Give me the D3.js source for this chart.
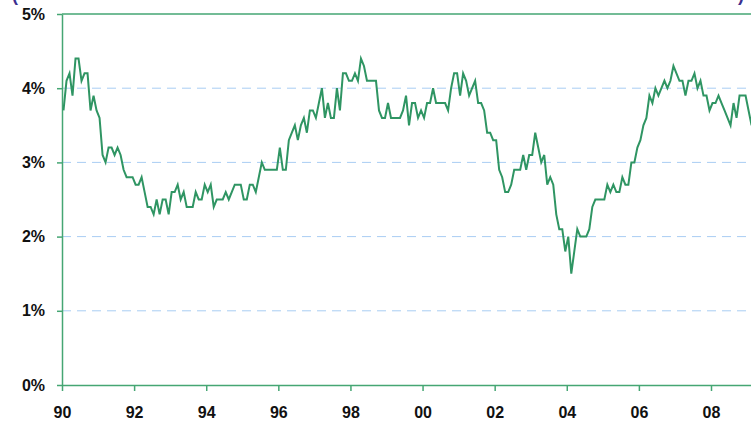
<!DOCTYPE html>
<html>
<head>
<meta charset="utf-8">
<script src="https://cdn.jsdelivr.net/npm/d3@7"></script>
<style>
  body { margin: 0; background: #fff; }
  svg { display: block; font-family: Arial, 'Liberation Sans', sans-serif; }
</style>
</head>
<body>
<svg id="chart" width="751" height="422"></svg>
<script>
// monthly values, Jan 1990 onwards (%)
const startYear = 1990
const rates = [
  3.7, 4.1, 4.2, 3.9, 4.4, 4.4, 4.1, 4.2, 4.2, 3.7, 3.9, 3.7, // 1990
  3.6, 3.1, 3.0, 3.2, 3.2, 3.1, 3.2, 3.1, 2.9, 2.8, 2.8, 2.8, // 1991
  2.7, 2.7, 2.8, 2.6, 2.4, 2.4, 2.3, 2.5, 2.3, 2.5, 2.5, 2.3, // 1992
  2.6, 2.6, 2.7, 2.5, 2.6, 2.4, 2.4, 2.4, 2.6, 2.5, 2.5, 2.7, // 1993
  2.6, 2.7, 2.4, 2.5, 2.5, 2.5, 2.6, 2.5, 2.6, 2.7, 2.7, 2.7, // 1994
  2.5, 2.5, 2.7, 2.7, 2.6, 2.8, 3.0, 2.9, 2.9, 2.9, 2.9, 2.9, // 1995
  3.2, 2.9, 2.9, 3.3, 3.4, 3.5, 3.3, 3.5, 3.6, 3.4, 3.7, 3.7, // 1996
  3.6, 3.8, 4.0, 3.6, 3.8, 3.6, 3.6, 4.0, 3.7, 4.2, 4.2, 4.1, // 1997
  4.1, 4.2, 4.1, 4.4, 4.3, 4.1, 4.1, 4.1, 4.1, 3.7, 3.6, 3.6, // 1998
  3.8, 3.6, 3.6, 3.6, 3.6, 3.7, 3.9, 3.5, 3.8, 3.8, 3.6, 3.7, // 1999
  3.6, 3.8, 3.8, 4.0, 3.8, 3.8, 3.8, 3.8, 3.7, 4.0, 4.2, 4.2, // 2000
  3.9, 4.2, 4.1, 3.9, 4.0, 4.1, 3.8, 3.8, 3.7, 3.4, 3.4, 3.3, // 2001
  3.3, 2.9, 2.8, 2.6, 2.6, 2.7, 2.9, 2.9, 2.9, 3.1, 2.9, 3.1, // 2002
  3.1, 3.4, 3.2, 3.0, 3.1, 2.7, 2.8, 2.7, 2.3, 2.1, 2.1, 1.8, // 2003
  2.0, 1.5, 1.8, 2.1, 2.0, 2.0, 2.0, 2.1, 2.4, 2.5, 2.5, 2.5, // 2004
  2.5, 2.7, 2.6, 2.7, 2.6, 2.6, 2.8, 2.7, 2.7, 3.0, 3.0, 3.2, // 2005
  3.3, 3.5, 3.6, 3.9, 3.8, 4.0, 3.9, 4.0, 4.1, 4.0, 4.1, 4.3, // 2006
  4.2, 4.1, 4.1, 3.9, 4.1, 4.1, 4.2, 4.0, 4.1, 3.9, 3.9, 3.7, // 2007
  3.8, 3.8, 3.9, 3.8, 3.7, 3.6, 3.5, 3.8, 3.6, 3.9, 3.9, 3.9, // 2008
  3.7, 3.5                                                    // 2009
]
const yTicks = [0, 1, 2, 3, 4, 5]
const gridTicks = [1, 2, 3, 4]
const xTicks = [1990, 1992, 1994, 1996, 1998, 2000, 2002, 2004, 2006, 2008]

const W = 751, H = 422
const plotLeft = 62, plotTop = 14, plotBottom = 385
const green = '#2f9563'
const axisGreen = '#45a673'

const svg = d3.select('#chart')

const x = d3.scaleLinear().domain([1990, 2008]).range([plotLeft, 711])
const y = d3.scaleLinear().domain([0, 5]).range([plotBottom, plotTop])

// cut-off title brackets
svg.append('text').attr('x', 12).attr('y', 1).attr('fill', '#3b2f8f')
  .style('font-size', '18px').style('font-weight', 'bold').text('(')
svg.append('text').attr('x', 738).attr('y', 1).attr('fill', '#3b2f8f')
  .style('font-size', '18px').style('font-weight', 'bold').text(')')

// gridlines
svg.append('g')
  .selectAll('line')
  .data(gridTicks)
  .enter()
  .append('line')
  .attr('x1', plotLeft)
  .attr('x2', W)
  .attr('y1', d => y(d))
  .attr('y2', d => y(d))
  .attr('stroke', '#a9cdf3')
  .attr('stroke-width', 1)
  .attr('stroke-dasharray', '9,6')

// top frame line
svg.append('line')
  .attr('x1', plotLeft).attr('x2', W)
  .attr('y1', y(5)).attr('y2', y(5))
  .attr('stroke', axisGreen)
  .attr('stroke-width', 1.5)

// axes
const yAxis = svg.append('g')
  .attr('transform', `translate(${plotLeft},0)`)
  .call(d3.axisLeft(y).tickValues(yTicks).tickFormat(d => d + '%').tickSize(5).tickSizeOuter(0).tickPadding(12))

const xAxis = svg.append('g')
  .attr('transform', `translate(0,${plotBottom})`)
  .call(d3.axisBottom(x).tickValues(xTicks).tickFormat(d => String(d).slice(2)).tickSize(6).tickSizeOuter(0).tickPadding(16))

xAxis.select('.domain').attr('d', `M${plotLeft},0.5H${W}`)

;[xAxis, yAxis].forEach(a => {
  a.select('.domain').attr('stroke', axisGreen).attr('stroke-width', 1.5)
  a.selectAll('.tick line').attr('stroke', axisGreen).attr('stroke-width', 1.5)
  a.selectAll('text')
    .attr('fill', '#111')
    .style('font-size', '16px')
    .style('font-weight', 'bold')
    .style('font-family', 'Arial, "Liberation Sans", sans-serif')
})

// the series
const line = d3.line()
  .x((d, i) => x(startYear + (i + 0.5) / 12))
  .y(d => y(d))

svg.append('path')
  .datum(rates)
  .attr('d', line)
  .attr('fill', 'none')
  .attr('stroke', green)
  .attr('stroke-width', 2)
  .attr('stroke-linejoin', 'miter')
</script>
</body>
</html>
